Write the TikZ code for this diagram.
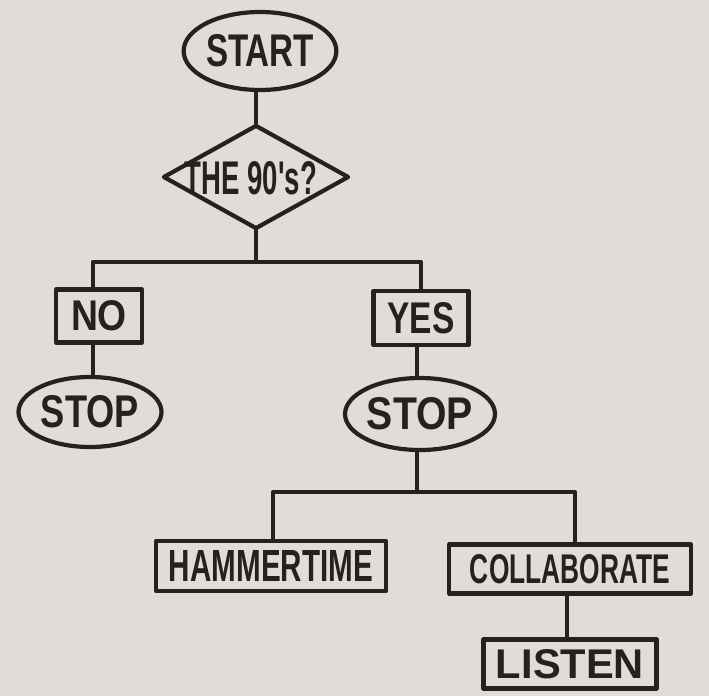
\documentclass[tikz,border=0pt]{standalone}
\usepackage{fontspec}
\usepackage{graphicx}
\usetikzlibrary{shapes.geometric}
\newfontfamily\handfont{Liberation Sans}
\definecolor{paper}{RGB}{224,220,215}
\definecolor{ink}{RGB}{38,33,28}
\newcommand{\hw}[3]{\resizebox{#1pt}{#2pt}{\handfont\bfseries #3}}
\begin{document}
\begin{tikzpicture}[x=1pt,y=-1pt,
  inkline/.style={draw=ink,line width=4.2pt,line cap=round,line join=round},
  oval/.style={inkline,ellipse,inner sep=0pt,text=ink},
  boxnode/.style={inkline,rectangle,inner sep=0pt,text=ink},
  decision/.style={inkline,diamond,inner sep=0pt},
  lbl/.style={inner sep=0pt,text=ink}]
\fill[paper] (0,0) rectangle (709,696);
\useasboundingbox (0,0) rectangle (709,696);

% nodes
\node[oval,minimum width=146pt,minimum height=78pt] (start) at (260,51) {\hw{108}{32}{START}};
\node[decision,minimum width=186pt,minimum height=104pt] (q) at (256,177) {};
\node[lbl] (qt) at (251,178) {\hw{132}{33}{THE 90's?}};
\node[boxnode,minimum width=86pt,minimum height=53pt] (no) at (99,316) {\hw{56}{30}{NO}};
\node[boxnode,minimum width=95pt,minimum height=54pt] (yes) at (421,318) {\hw{67}{31}{YES}};
\node[oval,minimum width=143pt,minimum height=70pt] (stop1) at (90,412) {\hw{98}{32}{STOP}};
\node[oval,minimum width=142pt,minimum height=72pt] (stop2) at (420,414) {\hw{106}{32}{STOP}};
\node[boxnode,minimum width=230pt,minimum height=50pt] (ham) at (271,566) {\hw{204}{31}{HAMMERTIME}};
\node[boxnode,minimum width=242pt,minimum height=49pt] (coll) at (570,569) {\hw{200}{29}{COLLABORATE}};
\node[boxnode,minimum width=173pt,minimum height=49pt] (listen) at (570,664) {\hw{148}{29}{LISTEN}};

% junction coordinates
\coordinate (b1) at (256,262);
\coordinate (bl) at (93,262);
\coordinate (br) at (421,262);
\coordinate (b2) at (417,492);
\coordinate (b2l) at (273,492);
\coordinate (b2r) at (575,492);

% connectors
\draw[inkline] (q.north) -- (q.north |- start.south);
\draw[inkline] (q.south) -- (b1);
\draw[inkline] (no.north -| bl) -- (bl) -- (br) -- (yes.north -| br);
\draw[inkline] (no.south -| bl) -- (stop1.north -| bl);
\draw[inkline] (yes.south -| b2) -- (stop2.north -| b2);
\draw[inkline] (stop2.south -| b2) -- (b2);
\draw[inkline] (ham.north -| b2l) -- (b2l) -- (b2r) -- (coll.north -| b2r);
\draw[inkline] (coll.south -| 567,0) -- (listen.north -| 567,0);
\end{tikzpicture}
\end{document}
